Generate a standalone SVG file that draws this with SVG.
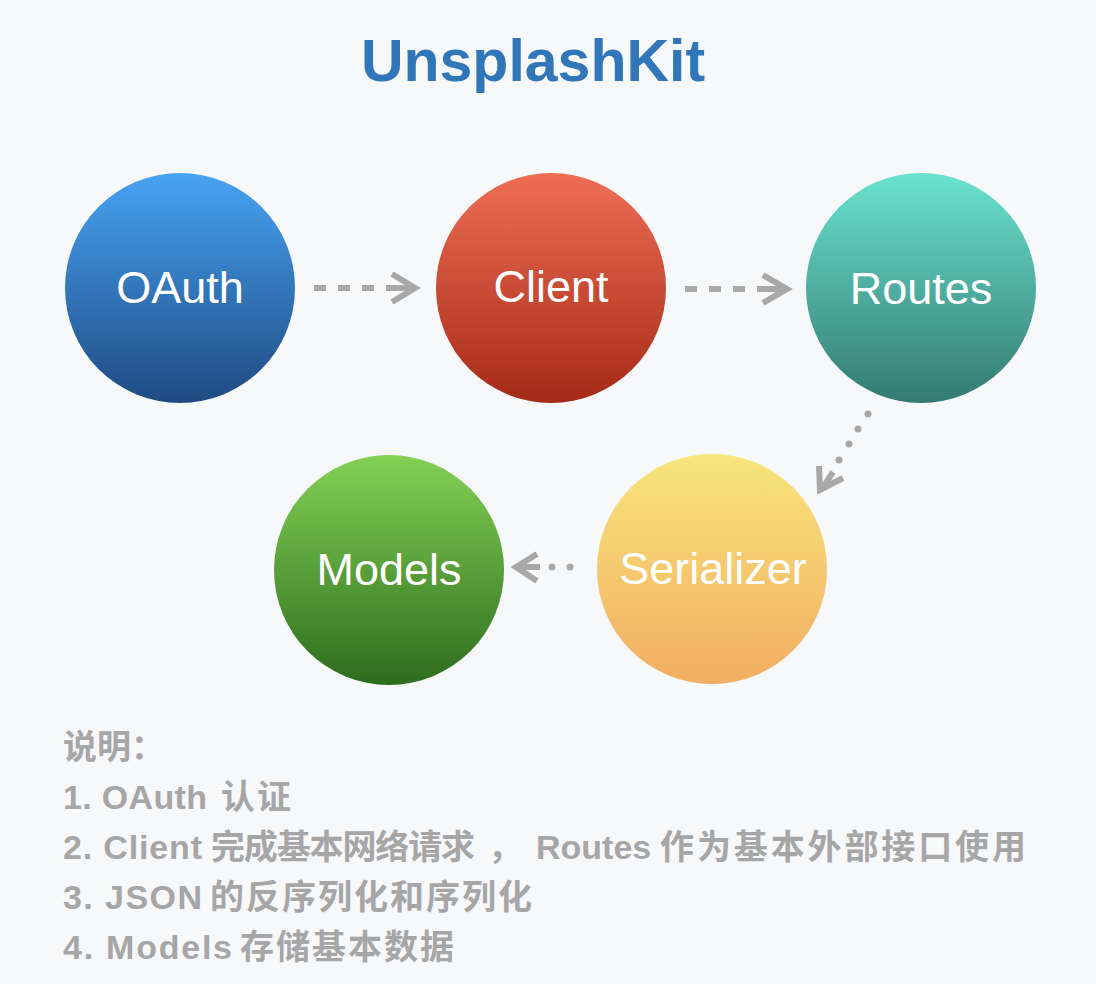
<svg xmlns="http://www.w3.org/2000/svg" width="1096" height="984" viewBox="0 0 1096 984">
  <defs>
    <linearGradient id="gOAuth" x1="0" y1="0" x2="0" y2="1">
      <stop offset="0" stop-color="#47a3f3"/>
      <stop offset="1" stop-color="#1f4a82"/>
    </linearGradient>
    <linearGradient id="gClient" x1="0" y1="0" x2="0" y2="1">
      <stop offset="0" stop-color="#ee6e55"/>
      <stop offset="1" stop-color="#a52a17"/>
    </linearGradient>
    <linearGradient id="gRoutes" x1="0" y1="0" x2="0" y2="1">
      <stop offset="0" stop-color="#6ae2cf"/>
      <stop offset="1" stop-color="#347a72"/>
    </linearGradient>
    <linearGradient id="gModels" x1="0" y1="0" x2="0" y2="1">
      <stop offset="0" stop-color="#84d155"/>
      <stop offset="1" stop-color="#2e6d1e"/>
    </linearGradient>
    <linearGradient id="gSerializer" x1="0" y1="0" x2="0" y2="1">
      <stop offset="0" stop-color="#f7e67b"/>
      <stop offset="1" stop-color="#f2ad61"/>
    </linearGradient>
  </defs>
  <style>
    .title { font-family: "Liberation Sans", Arial, sans-serif; font-weight: bold; font-size: 59px; fill: #3176b8; text-anchor: middle; }
    .label { font-family: "Liberation Sans", Arial, sans-serif; font-size: 45px; fill: #ffffff; text-anchor: middle; }
    .note { font-family: "Liberation Sans", "Noto Sans CJK SC", sans-serif; font-weight: bold; font-size: 34px; fill: #a6a6a6; }
    .dash { stroke: #a8a8a8; stroke-width: 6; fill: none; stroke-dasharray: 12 12; }
    .shaft { stroke: #a8a8a8; stroke-width: 6; fill: none; }
    .head { stroke: #a8a8a8; stroke-width: 6; fill: none; stroke-linejoin: miter; }
    .dot { fill: #a8a8a8; }
  </style>
  <rect width="1096" height="984" fill="#f6f8fa"/>

  <text class="title" x="533" y="81">UnsplashKit</text>

  <g id="connectors">
    <!-- OAuth -> Client -->
    <line class="dash" x1="314" y1="288" x2="376" y2="288"/>
    <line class="shaft" x1="386" y1="288" x2="412" y2="288"/>
    <polyline class="head" points="392,274 415,288 392,302"/>
    <!-- Client -> Routes -->
    <line class="dash" x1="685" y1="289" x2="747" y2="289"/>
    <line class="shaft" x1="757" y1="289" x2="784" y2="289"/>
    <polyline class="head" points="763,275 787,289 763,303"/>
    <!-- Routes -> Serializer -->
    <circle class="dot" cx="868" cy="414" r="3.5"/>
    <circle class="dot" cx="858" cy="429" r="3.5"/>
    <circle class="dot" cx="849" cy="444" r="3.5"/>
    <circle class="dot" cx="839" cy="460" r="3.5"/>
    <line class="shaft" x1="833" y1="472" x2="822" y2="489"/>
    <polyline class="head" points="819,466 820,490 843,478"/>
    <!-- Serializer -> Models -->
    <circle class="dot" cx="570" cy="567" r="3.5"/>
    <circle class="dot" cx="552" cy="567" r="3.5"/>
    <line class="shaft" x1="518" y1="567" x2="540" y2="567"/>
    <polyline class="head" points="537,554 516,567 537,581"/>
  </g>

  <g id="node-oauth">
    <circle cx="180" cy="288" r="115" fill="url(#gOAuth)"/>
    <text class="label" x="180" y="303">OAuth</text>
  </g>
  <g id="node-client">
    <circle cx="551" cy="288" r="115" fill="url(#gClient)"/>
    <text class="label" x="551" y="302">Client</text>
  </g>
  <g id="node-routes">
    <circle cx="921" cy="288" r="115" fill="url(#gRoutes)"/>
    <text class="label" x="921" y="304">Routes</text>
  </g>
  <g id="node-models">
    <circle cx="389" cy="570" r="115" fill="url(#gModels)"/>
    <text class="label" x="389" y="585">Models</text>
  </g>
  <g id="node-serializer">
    <circle cx="712" cy="569" r="115" fill="url(#gSerializer)"/>
    <text class="label" x="713" y="584">Serializer</text>
  </g>

  <g id="notes">
    <text class="note" x="63" y="759">说明：</text>
    <text class="note" y="809"><tspan x="63" textLength="144" lengthAdjust="spacing">1. OAuth</tspan> <tspan x="221" textLength="70" lengthAdjust="spacing">认证</tspan></text>
    <text class="note" y="859"><tspan x="63" textLength="139" lengthAdjust="spacing">2. Client</tspan> <tspan x="211" textLength="264" lengthAdjust="spacing">完成基本网络请求</tspan><tspan x="488">，</tspan><tspan x="536">Routes</tspan> <tspan x="660" textLength="366" lengthAdjust="spacing">作为基本外部接口使用</tspan></text>
    <text class="note" y="909"><tspan x="63" textLength="139" lengthAdjust="spacing">3. JSON</tspan> <tspan x="210" textLength="322" lengthAdjust="spacing">的反序列化和序列化</tspan></text>
    <text class="note" y="959"><tspan x="63" textLength="169" lengthAdjust="spacing">4. Models</tspan> <tspan x="240" textLength="214" lengthAdjust="spacing">存储基本数据</tspan></text>
  </g>
</svg>
